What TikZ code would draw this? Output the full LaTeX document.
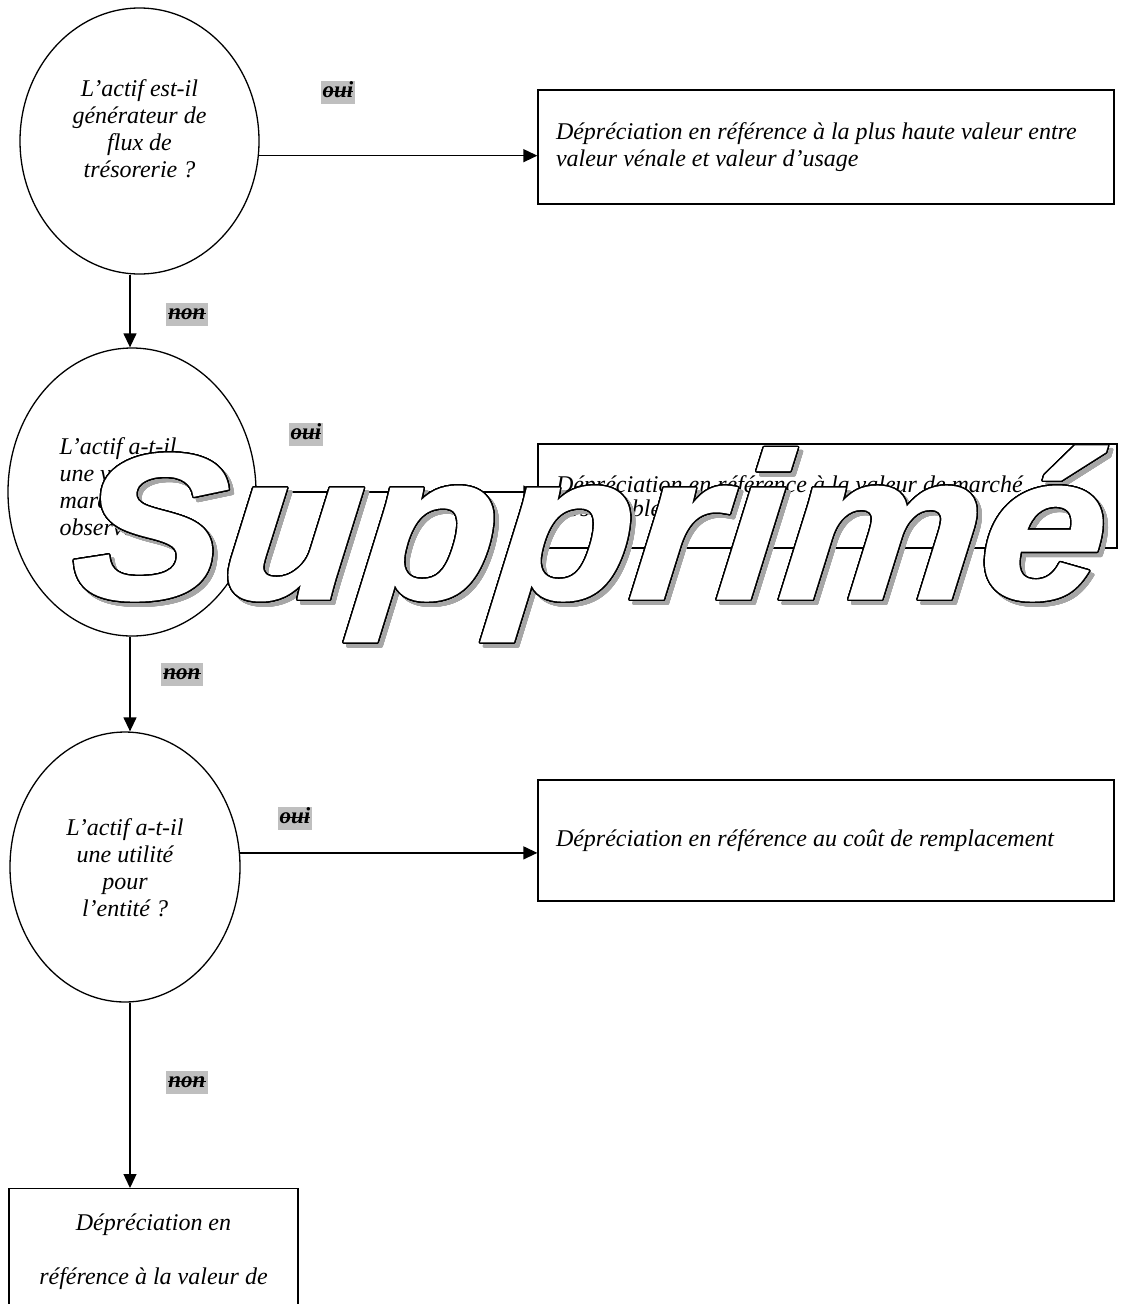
\documentclass[tikz,border=0pt]{standalone}
\usepackage{fontspec}
\setmainfont{Liberation Serif}
\newfontfamily\filigranefont[FakeSlant=0.1,FakeStretch=1.085,FakeBold=1.5]{Liberation Sans}
\usepackage{contour}
\contourlength{1.4pt}
\contournumber{32}
\usetikzlibrary{arrows.meta,shapes.geometric,positioning}
\newcommand\rayer[1]{\setbox0\hbox{#1}\rlap{\rule[0.24em]{\wd0}{1.3pt}}\box0}

\begin{document}
\begin{tikzpicture}[x=1pt,y=-1pt,>={Triangle[length=14pt,width=13pt]},
    every node/.style={font=\fontsize{24}{27}\selectfont\itshape},
    question/.style={draw,ellipse,line width=1.3pt,inner sep=0pt},
    resultat/.style={draw,rectangle,line width=1.3pt,minimum width=576pt,text width=540pt,inner xsep=18pt,align=flush left},
    choix/.style={fill=black!25,inner sep=2pt,text height=15pt,text depth=4pt,font=\fontsize{23}{27}\selectfont\bfseries\itshape},
    fleche/.style={->,line width=1.3pt},
    filigrane/.style={anchor=base west,inner sep=0pt,font=\filigranefont\fontsize{206}{206}\selectfont\bfseries\itshape}]

    \useasboundingbox (0,0) rectangle (1134,1304);

    % questions
    \node[question,minimum width=239pt,minimum height=266pt] (q1) at (139.5,141) {};
    \node[align=center] (t1) at (139.5,129) {L'actif est-il\\générateur de\\flux de\\trésorerie ?};

    \node[question,minimum width=248pt,minimum height=288pt] (q2) at (132,492) {};
    \node[align=left,anchor=west] (t2) at (56,487) {L'actif a-t-il\\une valeur de\\marché\\observable ?};

    \node[question,minimum width=230pt,minimum height=270pt] (q3) at (125,867) {};
    \node[align=center] (t3) at (125,868) {L'actif a-t-il\\une utilité\\pour\\l'entité ?};

    % resultats
    \node[resultat,minimum height=114pt] (r1) at (826,147) {Dépréciation en référence à la plus haute valeur entre\\valeur vénale et valeur d'usage};
    \node[resultat,minimum height=104pt,text width=543pt] (r2) at (827.5,496) {\raisebox{-3pt}{Dépréciation en référence à la valeur de marché}\\observable};
    \node[resultat,minimum height=121pt] (r3) at (826,840.5) {Dépréciation en référence au coût de remplacement};
    \node[draw,line width=1.3pt,text width=253pt,inner xsep=18pt,inner ysep=25pt,align=flush center,anchor=north] (r4) at (153.5,1188) {Dépréciation en\\[27pt]référence à la valeur de};

    % oui / non
    \node[choix] (o1) at (338,92) {\rayer{oui}};
    \node[choix] (n1) at (187,314) {\rayer{non}};
    \node[choix] (o2) at (306,434) {\rayer{oui}};
    \node[choix] (n2) at (182,674) {\rayer{non}};
    \node[choix] (o3) at (295,818) {\rayer{oui}};
    \node[choix] (n3) at (187,1082) {\rayer{non}};

    % fleches
    \coordinate (axe) at (130,0);
    \draw[fleche] (q1.353) -- (q1.353 -| r1.west);
    \draw[fleche] (q1.south -| axe) -- (q2.north -| axe);
    \draw[fleche] (q2.east) -- (q2.east -| r2.west);
    \draw[fleche] (q2.south -| axe) -- (q3.north -| axe);
    \draw[fleche] (q3.7) -- (q3.7 -| r3.west);
    \draw[fleche] (q3.south -| axe) -- (r4.north -| axe);

    % filigrane
    \node[filigrane,text=black!35] (ombre) at (73,602) {\contour{black!35}{Supprimé}};
    \node[filigrane,text=white] (marque) at (69,598) {\contour{black}{Supprimé}};
\end{tikzpicture}
\end{document}
